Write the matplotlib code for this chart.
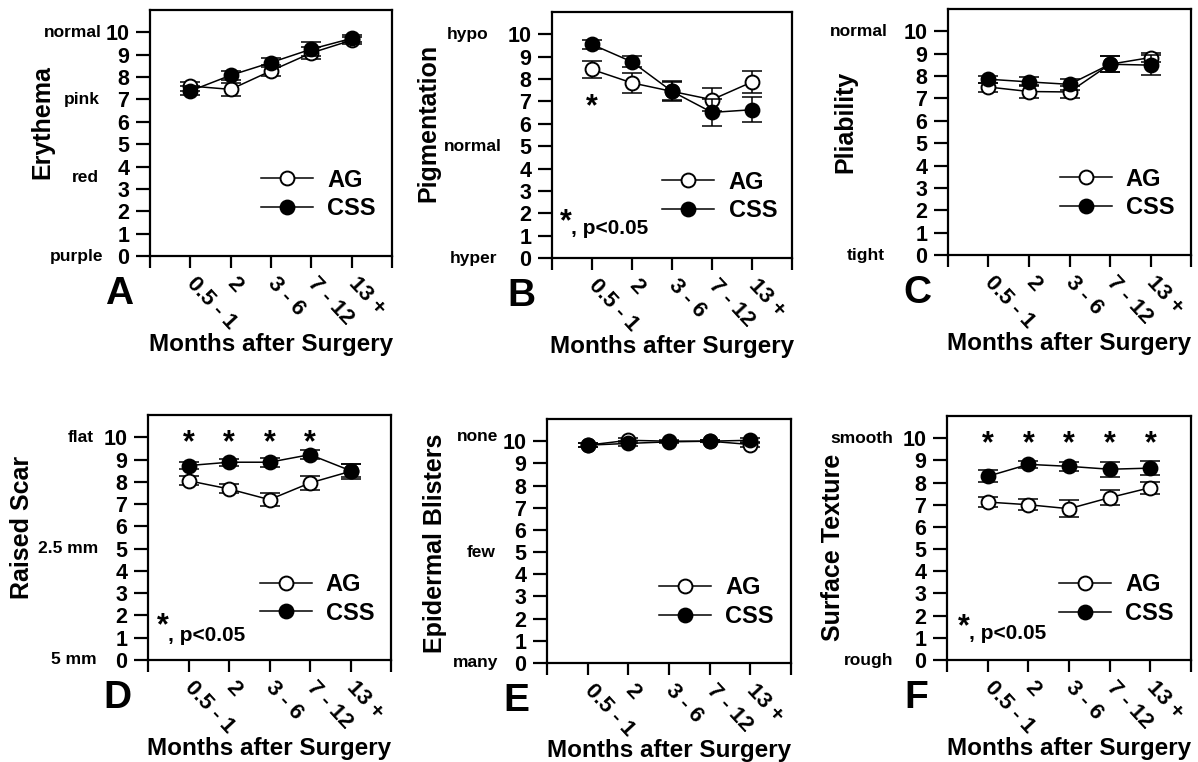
import matplotlib.pyplot as plt
import numpy as np

plt.rcParams['font.family'] = ['Liberation Sans', 'DejaVu Sans']
plt.rcParams['font.weight'] = 'bold'

MONTHS = ['0.5 - 1', '2', '3 - 6', '7 - 12', '13 +']
X = np.arange(1, 6)

ERYTHEMA_AG = [7.6, 7.45, 8.28, 9.08, 9.65]
ERYTHEMA_AG_ERR = [0.2, 0.3, 0.25, 0.25, 0.15]
ERYTHEMA_CSS = [7.38, 8.08, 8.65, 9.25, 9.73]
ERYTHEMA_CSS_ERR = [0.2, 0.2, 0.2, 0.3, 0.15]

PIGMENT_AG = [8.43, 7.83, 7.45, 7.08, 7.87]
PIGMENT_AG_ERR = [0.4, 0.45, 0.4, 0.5, 0.5]
PIGMENT_CSS = [9.55, 8.77, 7.45, 6.51, 6.63]
PIGMENT_CSS_ERR = [0.2, 0.25, 0.45, 0.6, 0.55]

PLIABILITY_AG = [7.51, 7.31, 7.29, 8.53, 8.83]
PLIABILITY_AG_ERR = [0.2, 0.3, 0.25, 0.35, 0.2]
PLIABILITY_CSS = [7.86, 7.74, 7.63, 8.53, 8.49]
PLIABILITY_CSS_ERR = [0.15, 0.2, 0.25, 0.35, 0.45]

RAISED_AG = [8.05, 7.68, 7.2, 7.95, 8.47]
RAISED_AG_ERR = [0.2, 0.2, 0.3, 0.3, 0.35]
RAISED_CSS = [8.73, 8.88, 8.88, 9.22, 8.5]
RAISED_CSS_ERR = [0.15, 0.15, 0.2, 0.2, 0.3]

BLISTER_AG = [9.82, 10.04, 10.0, 10.0, 9.85]
BLISTER_AG_ERR = [0.1, 0.1, 0.05, 0.05, 0.1]
BLISTER_CSS = [9.82, 9.9, 9.97, 10.0, 10.04]
BLISTER_CSS_ERR = [0.1, 0.1, 0.05, 0.05, 0.1]

TEXTURE_AG = [7.12, 7.0, 6.82, 7.32, 7.77]
TEXTURE_AG_ERR = [0.22, 0.25, 0.38, 0.33, 0.27]
TEXTURE_CSS = [8.28, 8.82, 8.73, 8.6, 8.65]
TEXTURE_CSS_ERR = [0.27, 0.15, 0.2, 0.33, 0.3]

W, H = 1198, 762

# rect = (left, right, top, bottom) in pixels; side labels: (text, y value, px gap from spine)
# sig_at = (x axes fraction, star y, text y)
PANELS = [
    dict(letter='A', name='Erythema', ag=ERYTHEMA_AG, ag_err=ERYTHEMA_AG_ERR,
         css=ERYTHEMA_CSS, css_err=ERYTHEMA_CSS_ERR, rect=(150, 392, 10, 256),
         side=[('normal', 10, 48), ('pink', 7, 50), ('red', 3.5, 51), ('purple', 0, 47)],
         ylab=(-0.446, 0.545), stars=[], sig_at=None),
    dict(letter='B', name='Pigmentation', ag=PIGMENT_AG, ag_err=PIGMENT_AG_ERR,
         css=PIGMENT_CSS, css_err=PIGMENT_CSS_ERR, rect=(552, 792, 12, 258),
         side=[('hypo', 10, 64), ('normal', 5, 50), ('hyper', 0, 55)],
         ylab=(-0.517, 0.55), stars=[], sig_at=(0.033, 1.84, 1.34)),
    dict(letter='C', name='Pliability', ag=PLIABILITY_AG, ag_err=PLIABILITY_AG_ERR,
         css=PLIABILITY_CSS, css_err=PLIABILITY_CSS_ERR, rect=(948, 1191, 9, 255),
         side=[('normal', 10, 60), ('tight', 0, 63)],
         ylab=(-0.424, 0.54), stars=[], sig_at=None),
    dict(letter='D', name='Raised Scar', ag=RAISED_AG, ag_err=RAISED_AG_ERR,
         css=RAISED_CSS, css_err=RAISED_CSS_ERR, rect=(148, 391, 415, 660),
         side=[('flat', 10, 54), ('2.5 mm', 5, 50), ('5 mm', 0, 51)],
         ylab=(-0.519, 0.54), stars=[1, 2, 3, 4], sig_at=(0.037, 1.8, 1.12)),
    dict(letter='E', name='Epidermal Blisters', ag=BLISTER_AG, ag_err=BLISTER_AG_ERR,
         css=BLISTER_CSS, css_err=BLISTER_CSS_ERR, rect=(547, 791, 419, 663),
         side=[('none', 10.2, 49), ('few', 5, 51), ('many', 0, 49)],
         ylab=(-0.459, 0.49), stars=[], sig_at=None),
    dict(letter='F', name='Surface Texture', ag=TEXTURE_AG, ag_err=TEXTURE_AG_ERR,
         css=TEXTURE_CSS, css_err=TEXTURE_CSS_ERR, rect=(947, 1191, 416, 660),
         side=[('smooth', 10, 54), ('rough', 0, 54)],
         ylab=(-0.467, 0.46), stars=[1, 2, 3, 4, 5], sig_at=(0.045, 1.72, 1.2)),
]

fig = plt.figure(figsize=(W / 100, H / 100), dpi=100)


def px_rect(l, r, t, b):
    return [l / W, 1 - b / H, (r - l) / W, (b - t) / H]


def star(ax, x, y, xcoords='data', ha='center'):
    # asterisk glyph centred on (x, y)
    ax.annotate('*', xy=(x, y), xycoords=(xcoords, 'data'), xytext=(0, -10),
                textcoords='offset points', ha=ha, va='baseline', fontsize=22)


def draw_panel(p):
    l, r, t, b = p['rect']
    ax = fig.add_axes(px_rect(l, r, t, b))
    hgt = b - t

    ax.errorbar(X, p['ag'], yerr=p['ag_err'], fmt='none', ecolor='black',
                elinewidth=1.1, capsize=7, capthick=1.1, zorder=2)
    ag_line, = ax.plot(X, p['ag'], '-o', color='black', lw=1.1, ms=10,
                       mfc='white', mec='black', mew=1.4, zorder=3)
    ax.errorbar(X, p['css'], yerr=p['css_err'], fmt='none', ecolor='black',
                elinewidth=1.1, capsize=7, capthick=1.1, zorder=4)
    css_line, = ax.plot(X, p['css'], '-o', color='black', lw=1.1, ms=10,
                        mfc='black', mec='black', mew=1.4, zorder=5)

    ax.legend([ag_line, css_line], ['AG', 'CSS'], loc='center left',
              bbox_to_anchor=(0.46, 0.25), frameon=False, fontsize=17,
              handlelength=2.2, handletextpad=0.6, labelspacing=0.25,
              borderpad=0, borderaxespad=0, numpoints=1)

    ax.set_xlim(0, 6)
    ax.set_ylim(0, 11)
    ax.set_xticks(range(7))
    ax.set_xticklabels([''] + MONTHS + [''])
    ax.set_yticks(range(11))
    for s in ax.spines.values():
        s.set_linewidth(1.6)
    ax.tick_params(axis='y', direction='out', length=10, width=1.6, labelsize=15.5, pad=5)
    ax.tick_params(axis='x', direction='out', length=8.5, width=1.6, labelsize=16, pad=9)
    for lab in ax.get_xticklabels():
        lab.set_rotation(-47)
        lab.set_ha('left')
        lab.set_va('center')
        lab.set_rotation_mode('anchor')

    for text, val, gap in p['side']:
        ax.annotate(text, xy=(0, val), xycoords=('axes fraction', 'data'),
                    xytext=(-gap * 0.72, 0), textcoords='offset points',
                    ha='right', va='center', fontsize=12.5)

    ax.text(p['ylab'][0], p['ylab'][1], p['name'], transform=ax.transAxes,
            rotation=90, ha='center', va='center', fontsize=18)
    ax.text(0.5, -88 / hgt, 'Months after Surgery', transform=ax.transAxes,
            ha='center', va='center', fontsize=17.5)
    ax.annotate(p['letter'], xy=(0, 0), xycoords='axes fraction',
                xytext=(-31 * 0.72, -38 * 0.72), textcoords='offset points',
                ha='center', va='center', fontsize=28)

    for xi in p['stars']:
        star(ax, xi, 10)
    if p['letter'] == 'B':
        star(ax, 1, 7.0)

    if p['sig_at'] is not None:
        sx, sy_star, sy_text = p['sig_at']
        star(ax, sx, sy_star, xcoords='axes fraction', ha='left')
        ax.annotate(', p<0.05', xy=(sx, sy_text), xycoords=('axes fraction', 'data'),
                    xytext=(8, 0), textcoords='offset points',
                    ha='left', va='center', fontsize=15)


for panel in PANELS:
    draw_panel(panel)

fig.savefig('out.png', dpi=100)
